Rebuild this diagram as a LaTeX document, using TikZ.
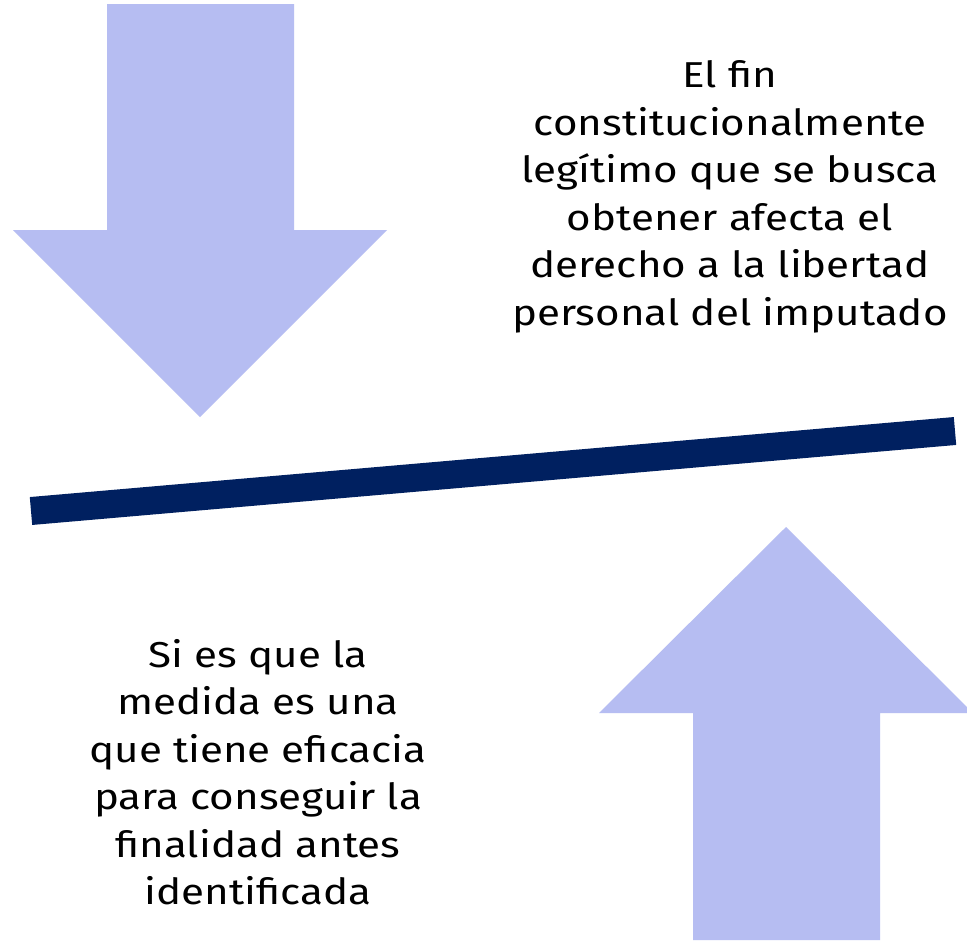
\documentclass[tikz,border=0pt]{standalone}
\usepackage{fontspec}
\setmainfont{Fira Sans}[FakeStretch=1.17]
\definecolor{arrowfill}{RGB}{182,189,242}
\definecolor{beam}{RGB}{0,32,96}
\begin{document}
\begin{tikzpicture}[x=1pt,y=-1pt,
  bigarrow/.style={fill=arrowfill,draw=none},
  label/.style={align=center,font=\fontsize{36}{47.5}\selectfont,inner sep=0pt}]
\useasboundingbox (0,0) rectangle (967,943);
\fill[white] (0,0) rectangle (967,943);
% down arrow
\path[bigarrow] (107,4) -- (294,4) -- (294,230) -- (387,230) -- (200,417) -- (13,230) -- (107,230) -- cycle;
% up arrow
\begin{scope}
\clip (0,0) rectangle (967,943);
\path[bigarrow] (693,940) -- (880,940) -- (880,713) -- (973,713) -- (786,527) -- (599,713) -- (693,713) -- cycle;
\end{scope}
% beam
\coordinate (bl) at (31,511);
\coordinate (br) at (955,431);
\draw[beam,line width=28pt] (bl) -- (br);
% texts
\node[label] (top) at (730,197) {El fin\\constitucionalmente\\legítimo que se busca\\obtener afecta el\\derecho a la libertad\\personal del imputado};
\node[label] (bot) at (258,772) {Si es que la\\medida es una\\que tiene eficacia\\para conseguir la\\finalidad antes\\identificada};
\end{tikzpicture}
\end{document}
